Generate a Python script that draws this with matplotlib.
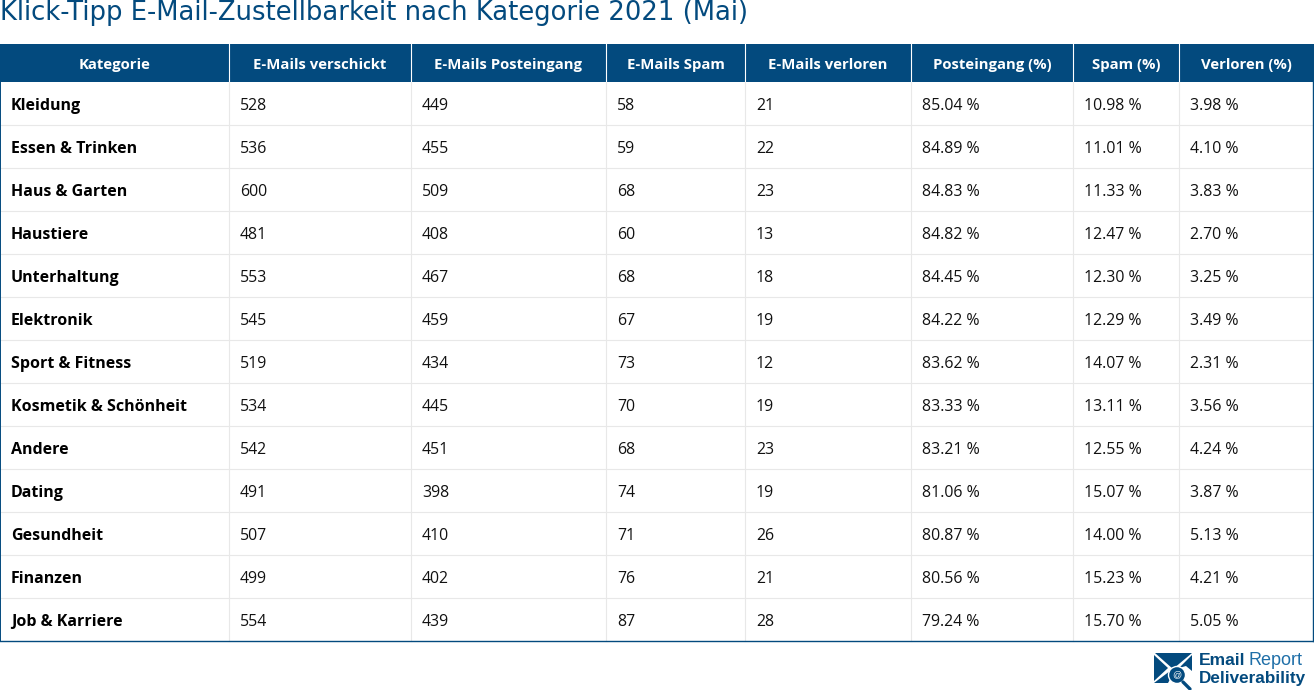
import matplotlib.pyplot as plt
from matplotlib.patches import Rectangle, Polygon, Circle

titel = 'Klick-Tipp E-Mail-Zustellbarkeit nach Kategorie 2021 (Mai)'
spalten = ['Kategorie', 'E-Mails verschickt', 'E-Mails Posteingang', 'E-Mails Spam',
           'E-Mails verloren', 'Posteingang (%)', 'Spam (%)', 'Verloren (%)']
kategorien = ['Kleidung', 'Essen & Trinken', 'Haus & Garten', 'Haustiere', 'Unterhaltung',
              'Elektronik', 'Sport & Fitness', 'Kosmetik & Schönheit', 'Andere', 'Dating',
              'Gesundheit', 'Finanzen', 'Job & Karriere']
verschickt = [528, 536, 600, 481, 553, 545, 519, 534, 542, 491, 507, 499, 554]
posteingang = [449, 455, 509, 408, 467, 459, 434, 445, 451, 398, 410, 402, 439]
spam = [58, 59, 68, 60, 68, 67, 73, 70, 68, 74, 71, 76, 87]
verloren = [21, 22, 23, 13, 18, 19, 12, 19, 23, 19, 26, 21, 28]
posteingang_pct = ['85.04', '84.89', '84.83', '84.82', '84.45', '84.22', '83.62',
                   '83.33', '83.21', '81.06', '80.87', '80.56', '79.24']
spam_pct = ['10.98', '11.01', '11.33', '12.47', '12.30', '12.29', '14.07',
            '13.11', '12.55', '15.07', '14.00', '15.23', '15.70']
verloren_pct = ['3.98', '4.10', '3.83', '2.70', '3.25', '3.49', '2.31',
                '3.56', '4.24', '3.87', '5.13', '4.21', '5.05']

BLAU = '#034a7e'
GRID = '#e8e8e8'
plt.rcParams['font.family'] = ['Open Sans', 'DejaVu Sans']

# Spaltengrenzen in Pixeln
kanten = [0, 229, 411, 606, 745, 911, 1073, 1179, 1313]
kopf_oben, kopf_unten, zeile_h = 44, 82, 43

fig = plt.figure(figsize=(13.14, 6.90), dpi=100)
ax = fig.add_axes([0, 0, 1, 1])
ax.set_xlim(0, 1314)
ax.set_ylim(690, 0)
ax.axis('off')

ax.text(0, 20, titel, fontsize=18.62, color=BLAU, family='DejaVu Sans', va='baseline', ha='left')

# Kopfzeile
ax.add_patch(Rectangle((0, kopf_oben), 1314, kopf_unten - kopf_oben, color=BLAU, lw=0))
for i, name in enumerate(spalten):
    ax.text((kanten[i] + kanten[i + 1]) / 2, 69, name, color='white', fontsize=10.75,
            fontweight='bold', ha='center', va='baseline')
    if i > 0:
        ax.plot([kanten[i]] * 2, [kopf_oben, kopf_unten], color='white', lw=0.8)

# Zeilen
unten = kopf_unten + zeile_h * len(kategorien)
for r, kat in enumerate(kategorien):
    y = kopf_unten + zeile_h * r
    yt = y + 28
    werte = [verschickt[r], posteingang[r], spam[r], verloren[r],
             posteingang_pct[r] + ' %', spam_pct[r] + ' %', verloren_pct[r] + ' %']
    ax.text(11, yt, kat, fontsize=11.55, fontweight='bold', color='black', va='baseline')
    for c, w in enumerate(werte):
        ax.text(kanten[c + 1] + 11, yt, str(w), fontsize=11.45, color='#111111', va='baseline')
    if r > 0:
        ax.plot([1, 1313], [y, y], color=GRID, lw=0.8)

for k in kanten[1:-1]:
    ax.plot([k] * 2, [kopf_unten, unten], color=GRID, lw=0.8)

# Rahmen
ax.plot([0, 0], [kopf_unten, unten], color=BLAU, lw=1.4)
ax.plot([1313, 1313], [kopf_unten, unten], color=BLAU, lw=1)
ax.plot([0, 1314], [unten, unten], color=BLAU, lw=1)

# Logo
ax.add_patch(Polygon([(1155, 653), (1192, 653), (1173, 669)], color=BLAU, lw=0))
ax.add_patch(Polygon([(1154, 655), (1168, 668), (1154, 681)], color=BLAU, lw=0))
ax.add_patch(Polygon([(1192, 655), (1192, 671), (1186, 666), (1179, 668)], color=BLAU, lw=0))
ax.add_patch(Polygon([(1154, 683), (1170, 671), (1173, 674), (1168, 683)], color=BLAU, lw=0))
ax.add_patch(Circle((1177, 675), 8.5, facecolor=BLAU, edgecolor='white', lw=1))
ax.plot([1183, 1190], [682, 689], color=BLAU, lw=2.4, solid_capstyle='round')
ax.text(1177, 675, '@', color='white', fontsize=6.5, ha='center', va='center', family='Liberation Sans')
ax.text(1199, 665, 'Email', color=BLAU, fontsize=12.6, fontweight='bold', family='Liberation Sans', va='baseline')
ax.text(1248, 665, 'Report', color='#1f6fa8', fontsize=13, family='Liberation Sans', va='baseline')
ax.text(1199, 683, 'Deliverability', color=BLAU, fontsize=12.3, fontweight='bold', family='Liberation Sans', va='baseline')

fig.savefig('out.png', dpi=100)
